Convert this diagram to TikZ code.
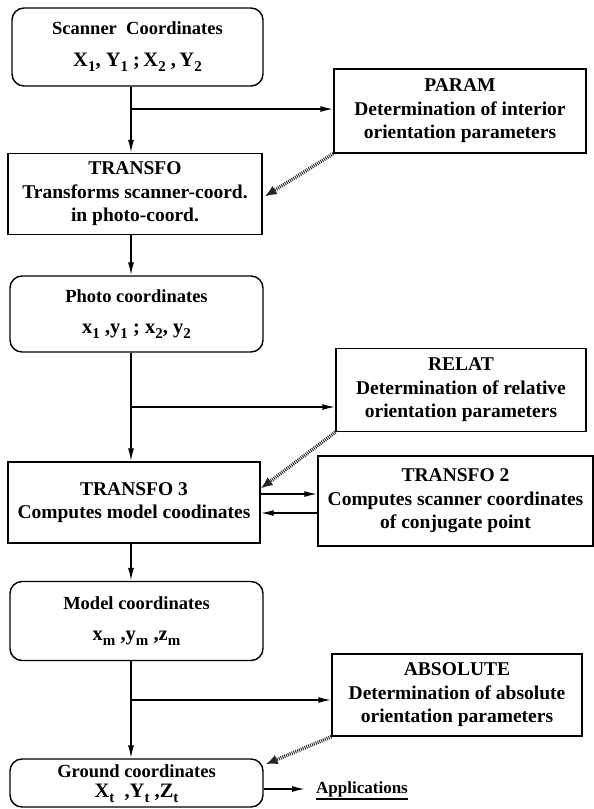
\documentclass[tikz,border=0pt]{standalone}
\usepackage{fontspec}
\setmainfont{Liberation Serif}
\usetikzlibrary{arrows.meta,calc}
\newcommand\sbs[1]{\raisebox{-5pt}{\fontsize{15}{15}\selectfont #1}}
\newcommand\crd{\fontsize{20.5}{21}\selectfont}
\begin{document}
\begin{tikzpicture}[x=1pt,y=-1pt,
  every node/.style={align=center, inner sep=0pt},
  box/.style={draw, line width=1.4pt, minimum width=#1, font=\fontsize{19.5}{23.5}\selectfont\bfseries},
  rbox/.style={draw, line width=1.4pt, minimum width=#1, rounded corners=12pt, font=\fontsize{18.5}{21}\selectfont\bfseries},
  plain/.style={font=\fontsize{18.5}{21}\selectfont\bfseries},
  arr/.style={line width=1.6pt, -{Latex[length=13pt,width=6pt]}},
  dotarr/.style={line width=3.5pt, dash pattern=on 0.9pt off 1.1pt, draw=black!85,
     -{Latex[length=12pt,width=10pt]}},
]
\useasboundingbox (0,0) rectangle (594,809);

\node[rbox=251, minimum height=78] (scan) at (137.5,47)
  {Scanner\ \ Coordinates\\[11pt] {\crd X\sbs{1},\ Y\sbs{1}\ ;\,X\sbs{2}\ ,\,Y\sbs{2}}};
\node[box=252, minimum height=84] (param) at (460,111)
  {PARAM\\Determination of interior\\orientation parameters};
\node[box=254, minimum height=81] (transfo) at (135,194)
  {TRANSFO\\Transforms scanner-coord.\\in photo-coord.};
\node[rbox=253, minimum height=76] (photo) at (136.5,314)
  {Photo coordinates\\[10pt] {\crd x\sbs{1}\ ,y\sbs{1}\ ;\ x\sbs{2},\ y\sbs{2}}};
\node[box=250, minimum height=83] (relat) at (461,390)
  {RELAT\\Determination of relative\\orientation parameters};
\node[box=252, minimum height=81] (transfo3) at (134,502.5)
  {TRANSFO 3\\Computes model coodinates};
\node[box=275, minimum height=90] (transfo2) at (455.5,501)
  {TRANSFO 2\\Computes scanner coordinates\\of conjugate point};
\node[rbox=253, minimum height=79] (model) at (136.5,621)
  {Model coordinates\\[10pt] {\crd x\sbs{m}\ ,y\sbs{m}\ ,z\sbs{m}}};
\node[box=250, minimum height=82] (absolute) at (457,695)
  {ABSOLUTE\\Determination of absolute\\orientation parameters};
\node[rbox=253, minimum height=48] (ground) at (136.5,783) {};
\node[plain] (gtext) at (136.5,784)
  {Ground coordinates\\[-1pt] {\crd X\sbs{t}\ \ ,Y\sbs{t}\ ,Z\sbs{t}}};
\node[anchor=west, font=\fontsize{17}{21}\selectfont\bfseries] (appl) at (316,789) {Applications};
\draw[line width=1.6pt] ($(appl.south west)+(0,2)$) -- ($(appl.south east)+(0,2)$);

\coordinate (sp) at (131,0);
\coordinate (b1) at (131,109);
\coordinate (b2) at (131,407);
\coordinate (b3) at (131,700);
\coordinate (ae) at (305,789);

% main spine
\draw[arr] (scan.south -| sp) -- (transfo.north -| sp);
\draw[arr] (transfo.south -| sp) -- (photo.north -| sp);
\draw[arr] (photo.south -| sp) -- (transfo3.north -| sp);
\draw[arr] (transfo3.south -| sp) -- (model.north -| sp);
\draw[arr] (model.south -| sp) -- (ground.north -| sp);

% branches
\draw[arr] (b1) -- (b1 -| param.west);
\draw[arr] (b2) -- (b2 -| relat.west);
\draw[arr] (b3) -- (b3 -| absolute.west);

% dotted feedback
\draw[dotarr] (param.south west) -- ($(transfo.north east)!0.53!(transfo.south east)+(2,0)$);
\draw[dotarr] (relat.south west) -- ($(transfo3.north east)!0.33!(transfo3.south east)$);
\draw[dotarr] (absolute.south west) -- ($(ground.north east)!0.12!(ground.south east)+(2,0)$);

% TRANSFO3 <-> TRANSFO2
\coordinate (r1) at (0,494);
\coordinate (r2) at (0,513);
\draw[arr] (r1 -| transfo3.east) -- (r1 -| transfo2.west);
\draw[arr] (r2 -| transfo2.west) -- (r2 -| transfo3.east);

% applications
\draw[arr] (ground.east |- ae) -- (ae);
\end{tikzpicture}
\end{document}
